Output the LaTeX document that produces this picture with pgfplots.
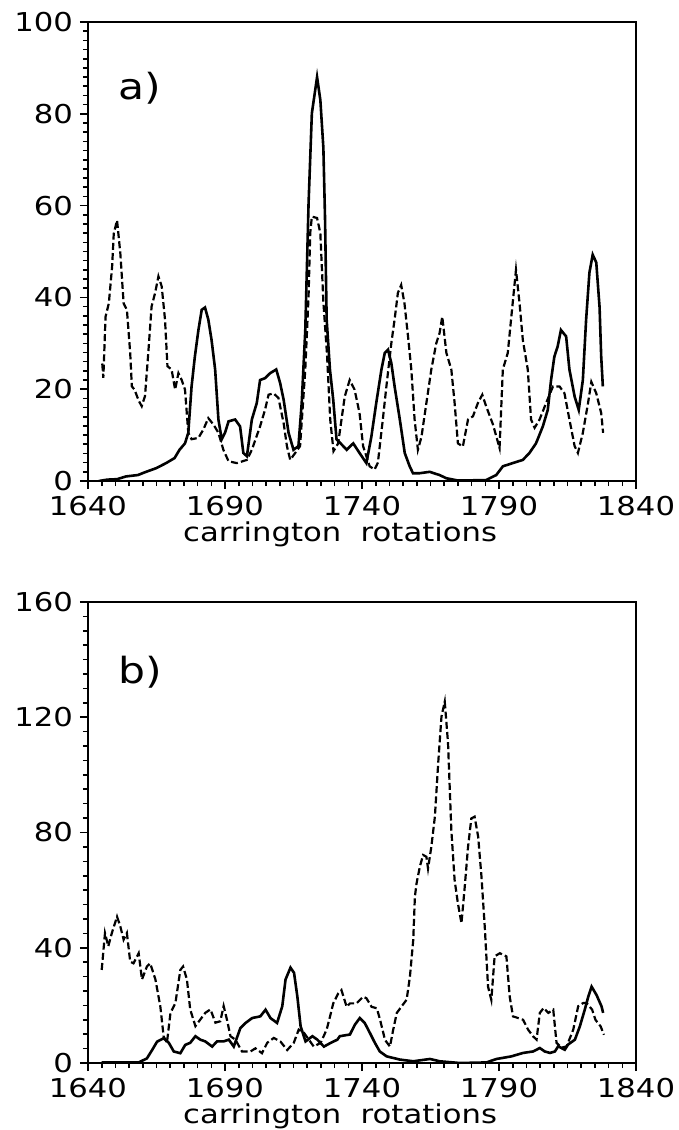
\documentclass[border=0pt]{standalone}
\usepackage{fontspec}
\setmainfont{DejaVu Sans}[FakeStretch=1.18]
\usepackage{pgfplots}
\pgfplotsset{compat=1.18}
\pgfplotsset{
 carr/.style={
  scale only axis, width=274pt,
  xmin=1640, xmax=1840, xtick={1640,1690,...,1840}, minor x tick num=9,
  tick pos=left, tick align=outside,
  major tick length=4pt, minor tick length=2.5pt,
  axis line style={line width=1pt},
  every tick/.style={black, line width=0.8pt},
  tick label style={font=\fontsize{13}{15}\selectfont},
  /pgf/number format/assume math mode=true,
  /pgf/number format/1000 sep={},
  xlabel={carrington\ \ rotations},
  xlabel style={font=\fontsize{13}{15}\selectfont, at={(axis description cs:0.46,0)}, anchor=center, yshift=-26.5pt, inner sep=0pt},
 },
 sol/.style={black, line width=1.3pt, no marks},
 dsh/.style={black, line width=1.1pt, no marks, dash pattern=on 3.5pt off 1.6pt},
}
\begin{document}
\begin{tikzpicture}
\useasboundingbox (0,0) rectangle (339.5pt,-565pt);
\begin{axis}[carr, at={(44pt,-11pt)}, anchor=north west, height=229.5pt,
  ymin=0, ymax=100, ytick={0,20,...,100}, minor y tick num=9]
\addplot[dsh] coordinates {
(1645.2,25.6) (1645.6,22.5) (1646.4,35.8) (1647.6,38.7) (1648.8,46.7) (1649.4,53.9) (1650.6,56.8) (1651.8,49.6) (1653.0,38.7) (1654.2,37.3) (1655.4,27.9) (1656.0,20.6) (1657.0,19.9) (1658.5,17.5) (1659.6,16.3) (1660.8,18.5) (1662.0,27.9) (1663.2,38.0) (1664.5,41.0) (1665.7,44.6) (1666.9,42.4) (1668.1,35.2) (1669.0,25.0) (1670.5,24.3) (1671.8,19.9) (1673.0,23.5) (1674.2,22.0) (1675.4,19.9) (1676.6,10.5) (1677.8,9.1) (1680.3,9.4) (1682.1,11.2) (1683.9,13.7) (1685.8,12.3) (1687.6,10.5) (1689.4,6.8) (1691.3,4.3) (1694.3,3.9) (1698.0,4.6) (1699.8,6.8) (1702.8,11.9) (1704.6,15.5) (1705.9,18.8) (1707.7,19.1) (1709.5,18.1) (1711.4,12.6) (1712.6,7.6) (1713.8,4.6) (1715.6,6.1) (1717.4,7.6) (1719.3,24.3) (1720.5,40.3) (1721.1,54.0) (1721.7,57.6) (1723.6,57.3) (1724.8,54.0) (1725.9,39.0) (1727.2,27.9) (1728.4,13.4) (1729.6,6.5) (1731.3,8.2) (1733.7,18.4) (1735.5,22.0) (1737.3,19.9) (1739.1,14.8) (1740.4,7.6) (1742.8,3.2) (1744.6,2.5) (1745.8,4.0) (1747.6,13.4) (1748.9,20.6) (1750.7,30.0) (1751.9,35.2) (1753.1,41.0) (1754.3,42.7) (1755.5,38.7) (1756.8,31.5) (1758.0,24.3) (1759.2,13.4) (1760.4,6.8) (1761.7,9.6) (1763.5,17.0) (1765.3,24.3) (1767.1,30.0) (1768.3,32.2) (1769.3,35.8) (1770.8,27.9) (1772.6,24.3) (1773.8,17.0) (1775.0,8.2) (1776.8,7.5) (1778.7,13.4) (1780.5,14.1) (1782.3,17.0) (1783.9,18.8) (1785.3,16.3) (1787.8,12.3) (1790.2,7.2) (1791.4,24.3) (1793.2,27.9) (1794.4,35.2) (1795.6,42.4) (1796.2,46.0) (1797.5,38.7) (1798.7,30.7) (1800.5,24.3) (1801.7,13.4) (1803.0,11.6) (1804.8,13.4) (1807.2,17.0) (1809.7,20.6) (1812.1,20.6) (1813.9,19.1) (1815.7,13.4) (1817.6,7.6) (1818.8,6.1) (1820.6,10.5) (1822.5,17.0) (1823.7,21.6) (1825.5,19.1) (1827.3,14.8) (1828.0,10.5)
};
\addplot[sol] coordinates {
(1644,0) (1647,0.3) (1650.6,0.4) (1653.9,1.0) (1658.2,1.3) (1661.2,2.0) (1664.9,2.8) (1668.5,3.9) (1671.6,5.0) (1673.4,6.8) (1675.4,8.2) (1676.6,10.5) (1677.8,20.6) (1679.0,27.1) (1680.3,32.9) (1681.5,37.3) (1682.7,37.8) (1683.9,35.2) (1685.1,30.7) (1686.4,24.3) (1687.6,13.4) (1688.8,9.1) (1690.0,10.5) (1691.3,13.0) (1693.7,13.4) (1695.5,11.9) (1696.7,6.1) (1698.0,5.4) (1699.8,13.4) (1701.6,17.0) (1702.8,22.0) (1704.6,22.4) (1706.5,23.5) (1708.7,24.3) (1710.1,21.4) (1711.4,17.7) (1713.2,10.5) (1715.0,6.8) (1716.8,7.6) (1718.0,17.0) (1719.3,32.9) (1720.5,60.5) (1721.7,80.1) (1723.6,88.0) (1724.8,83.0) (1725.9,72.6) (1726.5,57.4) (1727.1,35.2) (1728.3,24.3) (1729.5,17.7) (1730.7,9.1) (1732.5,8.0) (1734.4,6.8) (1736.8,8.2) (1739.1,6.1) (1741.6,3.9) (1743.4,9.6) (1745.2,17.0) (1747.1,24.3) (1748.3,27.9) (1749.5,28.6) (1750.7,25.7) (1751.9,20.6) (1753.8,13.4) (1755.6,6.1) (1757.4,3.2) (1758.6,1.7) (1761.1,1.7) (1764.7,2.0) (1768.3,1.3) (1770.8,0.6) (1775,0.1) (1785.3,0.2) (1789.0,1.3) (1791.4,3.2) (1795.0,3.9) (1798.7,4.6) (1801.1,6.1) (1803.5,8.2) (1806.0,11.9) (1807.8,15.5) (1809.0,22.0) (1810.2,27.1) (1811.4,29.3) (1812.6,32.9) (1814.5,31.5) (1815.7,24.3) (1817.6,18.4) (1819.1,15.5) (1820.6,22.0) (1821.8,35.2) (1823.0,45.4) (1824.2,49.3) (1825.5,47.6) (1826.7,37.9) (1827.3,27.1) (1827.9,20.6)
};
\node[font=\fontsize{18}{20}\selectfont] at (axis cs:1659,85.6) {a)};
\end{axis}
\begin{axis}[carr, at={(44pt,-301pt)}, anchor=north west, height=230.5pt,
  ymin=0, ymax=160, ytick={0,40,...,160}, minor y tick num=7]
\addplot[dsh] coordinates {
(1645.0,32.3) (1646.2,45.1) (1647.4,40.5) (1648.7,45.1) (1650.6,50.8) (1651.8,47.4) (1653.0,42.8) (1654.2,45.1) (1655.4,35.2) (1656.6,34.6) (1658.5,38.1) (1659.7,29.0) (1661.5,33.5) (1662.7,34.6) (1664.6,29.0) (1666.4,19.6) (1667.6,9.3) (1668.8,7.0) (1670.1,17.4) (1671.9,20.8) (1673.7,32.3) (1674.7,33.5) (1676.1,29.0) (1677.3,18.6) (1679.2,12.8) (1681.0,15.1) (1682.8,17.4) (1684.7,18.6) (1686.5,14.0) (1688.3,14.5) (1689.5,19.8) (1690.7,15.1) (1692.0,9.3) (1693.8,8.1) (1696.2,4.0) (1699.3,4.0) (1701.1,5.1) (1703.5,3.4) (1705.4,7.0) (1707.8,8.7) (1710.2,7.5) (1712.7,4.5) (1715.1,7.0) (1716.9,11.6) (1718.8,10.5) (1720.6,8.1) (1722.4,5.7) (1724.9,7.0) (1727.1,11.6) (1728.3,16.0) (1729.5,20.7) (1731.3,24.1) (1732.5,25.3) (1734.4,19.5) (1735.6,20.7) (1738.0,20.7) (1740.4,23.0) (1741.6,22.5) (1743.5,19.5) (1745.4,19.0) (1746.6,15.0) (1748.4,8.0) (1750.2,5.7) (1751.4,11.6) (1752.7,17.4) (1754.5,19.7) (1756.3,22.0) (1757.5,30.1) (1758.7,42.7) (1759.3,57.7) (1759.9,62.3) (1761.1,68.1) (1762.3,72.2) (1763.5,71.6) (1764.1,67.5) (1765.3,75.0) (1766.6,85.5) (1767.8,104.0) (1769.0,120.2) (1770.2,125.4) (1771.4,111.0) (1772.6,80.9) (1773.8,63.5) (1775.0,55.4) (1776.3,48.5) (1777.5,61.2) (1778.7,75.0) (1779.9,84.9) (1781.1,85.5) (1782.4,78.5) (1783.6,64.7) (1784.8,47.3) (1786.0,26.5) (1787.2,21.9) (1788.4,37.0) (1790.3,38.1) (1792.7,37.0) (1793.9,23.1) (1795.1,16.2) (1797.0,15.6) (1798.8,15.0) (1800.6,11.6) (1802.4,9.3) (1803.7,8.1) (1804.9,17.4) (1806.3,19.1) (1808.0,17.4) (1809.8,18.5) (1811.0,7.0) (1812.8,5.3) (1814.7,5.8) (1817.1,11.6) (1818.9,19.7) (1820.7,20.8) (1822.0,20.8) (1824.0,18.5) (1825.2,15.0) (1827.1,12.7) (1828.3,9.8)
};
\addplot[sol] coordinates {
(1645.0,0.2) (1658.5,0.2) (1661.5,1.6) (1663.4,4.5) (1665.2,7.4) (1667.6,8.6) (1669.5,7.0) (1671.3,4.0) (1673.7,3.4) (1675.5,6.3) (1677.3,7.0) (1679.2,9.3) (1681.0,8.1) (1682.8,7.5) (1685.3,5.7) (1687.1,7.5) (1689.5,7.5) (1691.4,8.1) (1693.2,5.7) (1695.6,12.1) (1697.5,13.9) (1699.9,15.6) (1702.9,16.2) (1704.8,18.5) (1706.6,15.6) (1709.0,13.9) (1710.9,19.7) (1712.1,29.0) (1713.9,33.1) (1715.2,31.3) (1716.4,23.1) (1717.6,12.7) (1719.4,7.5) (1721.9,9.3) (1723.7,8.1) (1726.1,5.7) (1728.6,7.0) (1731.0,8.1) (1731.9,9.3) (1735.6,9.9) (1737.4,13.3) (1739.2,15.6) (1741.0,13.9) (1742.9,10.4) (1744.7,7.0) (1746.5,4.0) (1749.0,2.3) (1753.8,1.2) (1758.7,0.6) (1764.8,1.4) (1768.4,0.6) (1775.7,0.0) (1785.4,0.2) (1789.1,1.4) (1794.5,2.3) (1798.8,3.5) (1802.4,4.0) (1804.9,5.2) (1806.7,4.0) (1808.6,3.5) (1810.4,4.0) (1811.6,5.8) (1814.0,4.6) (1815.2,6.4) (1817.7,8.1) (1819.5,12.7) (1821.3,18.5) (1822.6,23.1) (1823.8,26.5) (1825.6,23.6) (1827.4,19.7) (1828.0,17.4)
};
\node[font=\fontsize{18}{20}\selectfont] at (axis cs:1659,135.8) {b)};
\end{axis}
\end{tikzpicture}
\end{document}
